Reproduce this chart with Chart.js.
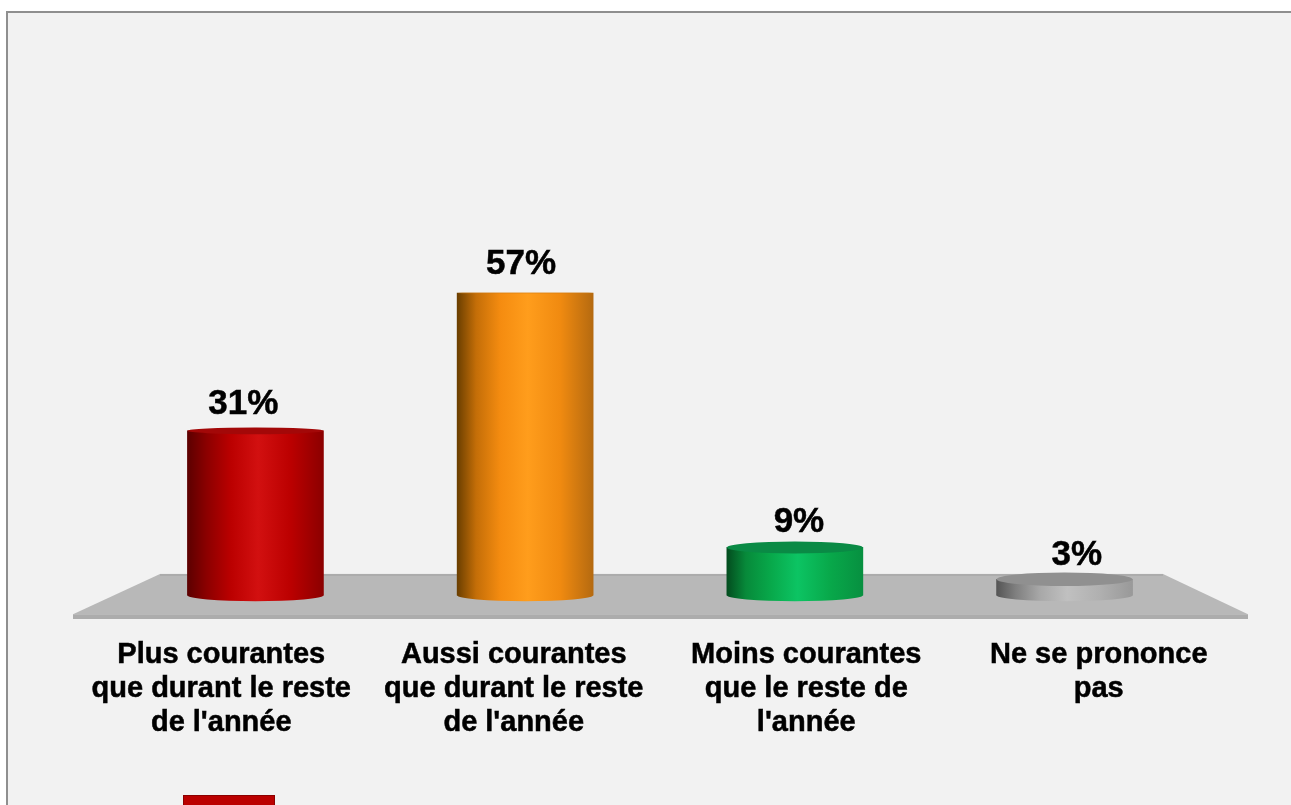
<!DOCTYPE html>
<html>
<head>
<meta charset="utf-8">
<title>Chart</title>
<script src="https://cdn.jsdelivr.net/npm/chart.js@4"></script>
<style>
  html, body { margin: 0; padding: 0; background: #fff; overflow: hidden; }
  #frame { position: absolute; left: 6px; top: 11px; width: 1400px; height: 900px; border: 2px solid #8f8f8f; background: #f2f2f2; }
  #chart { position: absolute; left: 0; top: 0; filter: blur(0.5px); }
</style>
</head>
<body>
<div id="frame"></div>
<canvas id="chart" width="1291" height="805"></canvas>
<script>
// categories and values
const categories = [
  ['Plus courantes', 'que durant le reste', "de l'année"],
  ['Aussi courantes', 'que durant le reste', "de l'année"],
  ['Moins courantes', 'que le reste de', "l'année"],
  ['Ne se prononce', 'pas']
];
const values = [31, 57, 9, 3];
const valueLabels = ['31%', '57%', '9%', '3%'];

// shading across each cylinder, left to right
const barShades = [
  ['#5c0000', '#8b0000', '#bb0000', '#d21010', '#bb0000', '#8b0000'],
  ['#6b3f00', '#c46e08', '#f58c10', '#ff9d1c', '#f08a10', '#b56a10'],
  ['#034d1f', '#078a3a', '#08a84a', '#0cc463', '#08a84a', '#079040'],
  ['#555555', '#7f7f7f', '#a8a8a8', '#c0c0c0', '#b0b0b0', '#999999']
];
const capColors = ['#a30808', '#c97a10', '#0a8a45', '#909090'];
const shadeStops = [0, 0.14, 0.32, 0.52, 0.76, 1];

function barGradient(chart, i, width) {
  const cx = chart.scales.x.getPixelForValue(i);
  // scales have no pixels yet on the first pass, before the layout
  if (!Number.isFinite(cx)) return barShades[i][2];
  const g = chart.ctx.createLinearGradient(cx - width / 2, 0, cx + width / 2, 0);
  shadeStops.forEach((s, k) => g.addColorStop(s, barShades[i][k]));
  return g;
}

// the ellipse gets flatter the higher the top of the cylinder is
function capRadius(v) {
  return 7 * (1 - v / 60);
}

const cylinderPlugin = {
  id: 'cylinder',
  beforeDatasetsDraw(chart) {
    const { ctx, chartArea, scales } = chart;
    const backY = scales.y.getPixelForValue(4);
    const frontY = scales.y.getPixelForValue(-3.6);
    // floor
    ctx.save();
    ctx.fillStyle = '#b8b8b8';
    ctx.beginPath();
    ctx.moveTo(chartArea.left + 85, backY);
    ctx.lineTo(chartArea.right - 82, backY);
    ctx.lineTo(chartArea.right + 3, frontY);
    ctx.lineTo(chartArea.left - 2, frontY);
    ctx.closePath();
    ctx.fill();
    ctx.fillStyle = '#acacac';
    ctx.fillRect(chartArea.left + 85, backY, chartArea.width - 167, 2);
    ctx.fillRect(chartArea.left - 2, frontY, chartArea.width + 5, chartArea.bottom - frontY);
    // rounded bottom of the bars
    chart.getDatasetMeta(0).data.forEach((bar, i) => {
      ctx.fillStyle = barGradient(chart, i, bar.width);
      ctx.beginPath();
      ctx.ellipse(bar.x, bar.base, bar.width / 2, 6, 0, 0, Math.PI * 2);
      ctx.fill();
    });
    ctx.restore();
  },
  afterDatasetsDraw(chart) {
    const { ctx } = chart;
    ctx.save();
    chart.getDatasetMeta(0).data.forEach((bar, i) => {
      // top of the cylinder
      ctx.fillStyle = capColors[i];
      ctx.beginPath();
      ctx.ellipse(bar.x, bar.y, bar.width / 2, capRadius(values[i]), 0, 0, Math.PI * 2);
      ctx.fill();
      // value above it, the labels spread a bit wider than the bars
      const labelX = chart.width * 0.51 + (bar.x - chart.width * 0.51) * 1.03;
      ctx.fillStyle = '#000';
      ctx.strokeStyle = '#000';
      ctx.lineWidth = 0.5;
      ctx.font = 'bold 35px "Liberation Sans"';
      ctx.textAlign = 'center';
      ctx.textBaseline = 'alphabetic';
      const labelY = bar.y - 14.5 - values[i] * 0.08;
      ctx.fillText(valueLabels[i], labelX, labelY);
      ctx.strokeText(valueLabels[i], labelX, labelY);
    });
    // legend swatch, cut off by the bottom of the picture
    ctx.fillStyle = '#bb0000';
    ctx.strokeStyle = '#8b0000';
    ctx.lineWidth = 1;
    ctx.fillRect(183, 795, 92, 12);
    ctx.strokeRect(183.5, 795.5, 91, 12);
    ctx.restore();
  }
};

new Chart(document.getElementById('chart'), {
  type: 'bar',
  data: {
    datasets: [{
      data: values.map((v, i) => ({ x: i, y: v })),
      xAxisID: 'x',
      barThickness: 136,
      backgroundColor: (c) => c.dataIndex === undefined ? '#999' : barGradient(c.chart, c.dataIndex, 136)
    }]
  },
  options: {
    responsive: false,
    animation: false,
    layout: { padding: { left: 75, right: 46, top: 20, bottom: 0 } },
    plugins: { legend: { display: false }, tooltip: { enabled: false } },
    scales: {
      x: { type: 'linear', display: false, offset: false, min: -0.669, max: 3.669 },
      labelAxis: {
        type: 'category',
        position: 'bottom',
        labels: categories,
        offset: true,
        grid: { display: false, drawTicks: false },
        border: { display: false },
        afterFit: (scale) => { scale.height = 186; },
        ticks: {
          autoSkip: false,
          maxRotation: 0,
          minRotation: 0,
          padding: 19,
          color: '#000',
          textStrokeColor: '#000',
          textStrokeWidth: 0.5,
          font: { family: '"Liberation Sans"', weight: 'bold', size: 29, lineHeight: 1.17 }
        }
      },
      y: { display: false, min: -4.5, max: 108.5 }
    }
  },
  plugins: [cylinderPlugin]
});
</script>
</body>
</html>
